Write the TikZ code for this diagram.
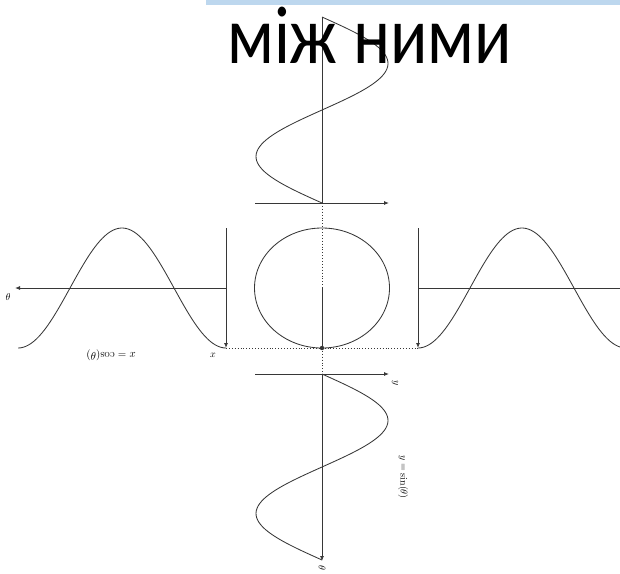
\documentclass[tikz,border=0pt]{standalone}
\usepackage{fontspec}
\newfontfamily\titlefont{Carlito}
\usetikzlibrary{arrows.meta}
\definecolor{barblue}{RGB}{189,215,238}
\definecolor{ink}{RGB}{55,55,55}
\tikzset{
  axis/.style={draw=ink, line width=0.85pt},
  axarrow/.style={axis, -{Latex[length=5pt,width=4pt]}},
  curve/.style={draw=ink, line width=0.85pt, smooth},
  guide/.style={draw=ink, line width=0.9pt, dotted},
  lbl/.style={inner sep=0pt, font=\fontsize{10}{12}\selectfont},
}
\begin{document}
\begin{tikzpicture}[x=1pt,y=-1pt]
\useasboundingbox (0,0) rectangle (620,573);
\begin{scope}
\clip (0,0) rectangle (620,573);
% top bar
\fill[barblue] (206,0) rectangle (620,5);
% key coordinates
\coordinate (C) at (322,288);
\coordinate (P) at (322,348);
% left cos plot
\coordinate (Lo) at (226,288);
\coordinate (Lend) at (15,288);
\coordinate (Ltop) at (226,228);
\coordinate (Lbot) at (226,348);
\draw[axarrow] (Lo) -- (Lend);
\draw[axarrow] (Ltop) -- (Lbot);
\draw[curve] plot[domain=0:6.2832,samples=80] ({226-33.1*\x},{288+60*cos(\x r)});
\node[lbl] (lth) at (8,297) {$\theta$};
\node[lbl] (lx) at (213,355) {$x$};
\node[lbl,rotate=180,font=\fontsize{11}{13}\selectfont] (lcos) at (111,355) {$x=\cos(\theta)$};
% right cos plot
\coordinate (Ro) at (418,288);
\coordinate (Rend) at (640,288);
\coordinate (Rtop) at (418,228);
\coordinate (Rbot) at (418,348);
\draw[axarrow] (Ro) -- (Rend);
\draw[axarrow] (Rtop) -- (Rbot);
\draw[curve] plot[domain=0:6.2832,samples=80] ({418+33.1*\x},{288+60*cos(\x r)});
% top sine plot
\coordinate (To) at (322,203);
\coordinate (Tl) at (255,203);
\coordinate (Tr) at (389,203);
\coordinate (Tend) at (322,17);
\draw[axarrow] (Tl) -- (Tr);
\draw[axis] (To) -- (Tend);
\draw[curve] plot[domain=0:6.2832,samples=80] ({322-66*sin(\x r)},{203-29.6*\x});
% bottom sine plot
\coordinate (Bo) at (322,374);
\coordinate (Bl) at (255,374);
\coordinate (Br) at (389,374);
\coordinate (Bend) at (322,561);
\draw[axarrow] (Bl) -- (Br);
\draw[axarrow] (Bo) -- (Bend);
\draw[curve] plot[domain=0:6.2832,samples=80] ({322+66*sin(\x r)},{374+29.6*\x});
\node[lbl,rotate=-90] (by) at (395,383) {$y$};
\node[lbl,rotate=-90] (bsin) at (403,477) {$y=\sin(\theta)$};
\node[lbl,rotate=-90] (bth) at (322,568) {$\theta$};
% circle
\draw[axis] (C) ellipse [x radius=67.5, y radius=60];
\draw[axis] (C) -- (P);
\draw[guide] (To) -- (Bo);
\draw[guide] (Lbot) -- (Rbot);
\fill[ink] (P) circle (2.2);
% title text
\node[anchor=base west, inner sep=0pt, font=\titlefont\fontsize{82}{86}\selectfont] (title) at (227,63) {\scalebox{0.845}[1]{між ними}};
\end{scope}
\end{tikzpicture}
\end{document}
